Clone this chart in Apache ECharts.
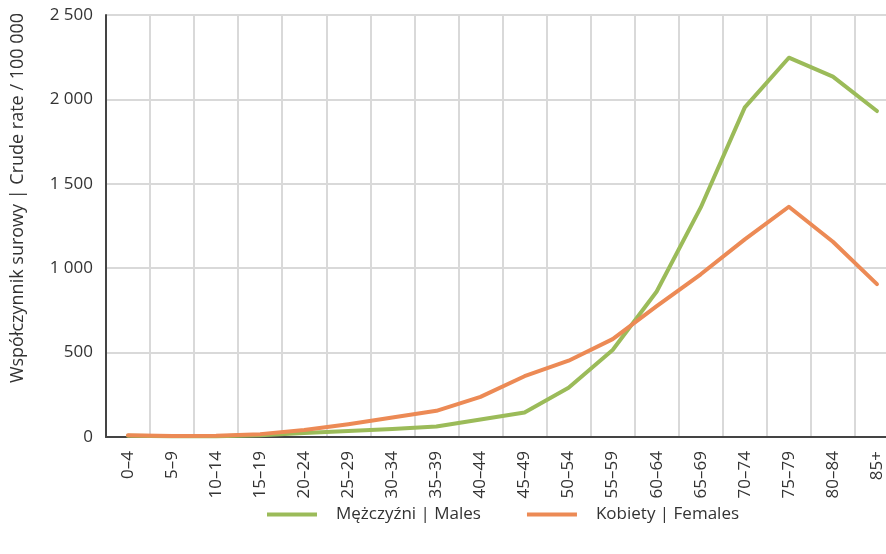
<!DOCTYPE html>
<html>
<head>
<meta charset="utf-8">
<script src="https://cdn.jsdelivr.net/npm/echarts@6/dist/echarts.min.js"></script>
<style>
  html, body { margin: 0; padding: 0; background: #fff; }
  #chart { width: 886px; height: 554px; }
</style>
</head>
<body>
<div id="chart"></div>
<script>
    "use strict";

    // age groups
    var ageGroups = ['0–4', '5–9', '10–14', '15–19', '20–24', '25–29', '30–34', '35–39', '40–44',
        '45–49', '50–54', '55–59', '60–64', '65–69', '70–74', '75–79', '80–84', '85+'];

    // crude rate per 100 000
    var males = [8, 5, 5, 10, 24, 36, 47, 62, 104, 145, 292, 515, 862, 1360, 1953, 2247, 2135, 1931];
    var females = [10, 6, 8, 17, 42, 76, 115, 155, 238, 360, 452, 580, 775, 964, 1171, 1364, 1157, 906];

    var yTicks = [0, 500, 1000, 1500, 2000, 2500];

    var fontFamily = '"Open Sans", "Noto Sans", sans-serif';

    var chart = echarts.init(document.getElementById('chart'));
    var option = {
        animation: false,
        // Add custom colors
        color: ['#9bbb59', '#ec8a55'],
        grid: {
            left: 106,
            top: 15,
            width: 793,
            height: 422,
            outerBoundsMode: 'none'
        },
        // Add legend
        legend: {
            bottom: 26,
            left: 262,
            itemWidth: 50,
            itemHeight: 4,
            itemGap: 46,
            icon: 'rect',
            textStyle: {
                fontFamily: fontFamily,
                fontSize: 17,
                color: '#333',
                padding: [0, 0, 0, 14]
            },
            data: ['Mężczyźni | Males', 'Kobiety | Females']
        },
        xAxis: {
            type: 'category',
            data: ageGroups,
            boundaryGap: true,
            axisLine: { lineStyle: { color: '#444', width: 2 } },
            axisTick: { show: false },
            axisLabel: {
                rotate: 90,
                interval: 0,
                margin: 14,
                fontFamily: fontFamily,
                fontSize: 17,
                color: '#333'
            },
            splitLine: {
                show: true,
                interval: 0,
                lineStyle: { color: '#d9d9d9', width: 2 }
            }
        },
        yAxis: {
            type: 'value',
            min: yTicks[0],
            max: yTicks[yTicks.length - 1],
            interval: 500,
            name: 'Współczynnik surowy | Crude rate / 100 000',
            nameLocation: 'middle',
            nameGap: 79,
            nameTextStyle: {
                fontFamily: fontFamily,
                fontSize: 18,
                color: '#333',
                padding: [0, 0, 0, 56]
            },
            axisLine: { show: true, lineStyle: { color: '#444', width: 2 } },
            axisTick: { show: false },
            axisLabel: {
                margin: 13,
                fontFamily: fontFamily,
                fontSize: 17,
                color: '#333',
                formatter: function (v) {
                    return String(v).replace(/\B(?=(\d{3})+(?!\d))/g, ' ');
                }
            },
            splitLine: { lineStyle: { color: '#d9d9d9', width: 2 } }
        },
        series: [{
            name: 'Mężczyźni | Males',
            type: 'line',
            data: males,
            symbol: 'none',
            lineStyle: { width: 4, cap: 'round', join: 'round' }
        }, {
            name: 'Kobiety | Females',
            type: 'line',
            data: females,
            symbol: 'none',
            lineStyle: { width: 4, cap: 'round', join: 'round' }
        }]
    };

    chart.setOption(option);
</script>
</body>
</html>
